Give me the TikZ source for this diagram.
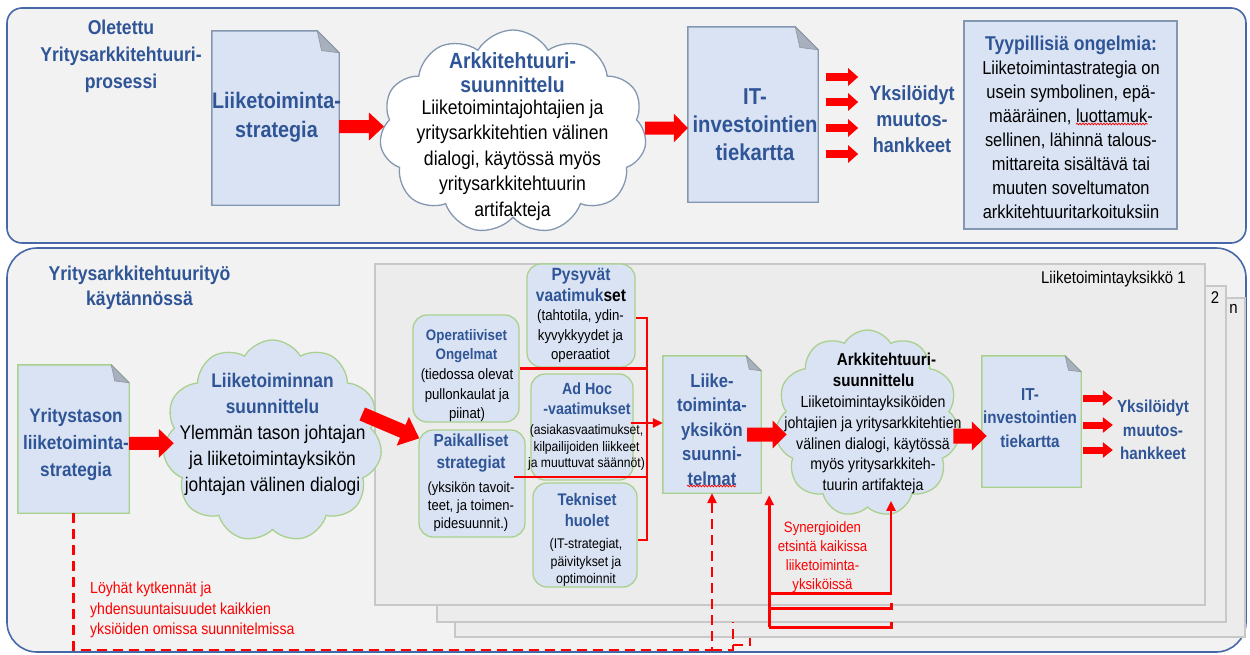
\documentclass[tikz,border=0pt]{standalone}
\usepackage{fontspec}
\setmainfont[FakeStretch=0.88]{Liberation Sans}
\usetikzlibrary{shapes.symbols,arrows.meta,calc,decorations.pathmorphing}
\definecolor{tblue}{RGB}{47,85,151}
\definecolor{pborder}{RGB}{70,104,168}
\definecolor{pfill}{RGB}{242,242,242}
\definecolor{dfill}{RGB}{218,227,243}
\definecolor{gbb}{RGB}{132,151,176}
\definecolor{foldc}{RGB}{168,176,190}
\definecolor{gborder}{RGB}{169,209,142}
\definecolor{pgfill}{RGB}{236,236,236}
\definecolor{pgborder}{RGB}{200,200,200}
\definecolor{rd}{RGB}{255,0,0}
\newcommand\fsz[2]{\fontsize{#1}{#2}\selectfont}
\newcommand\bb[1]{{\bfseries\color{tblue}#1}}
\newcommand\docdraw[4]{%
  \filldraw[fill=#3,draw=#4,line width=1.4pt,line join=miter]
    (#1.south west) -- (#1.north west) -- ($(#1.north east)+(-#2,0)$)
    -- ($(#1.north east)+(0,#2)$) -- (#1.south east) -- cycle;
  \filldraw[fill=foldc,draw=foldc!85!black,line width=0.6pt]
    ($(#1.north east)+(-#2,0)$) -- ($(#1.north east)+(0,#2)$)
    -- ($(#1.north east)+(-0.8*#2,0.9*#2)$) -- cycle;
}
\begin{document}
\begin{tikzpicture}[x=1pt,y=-1pt,
  every node/.style={inner sep=0pt},
  txt/.style={align=center, inner sep=0pt},
  panel/.style={draw=pborder, fill=pfill, line width=1.6pt},
  page/.style={draw=pgborder, fill=pgfill, line width=1.2pt},
  rbox/.style={draw=gborder, fill=dfill, line width=1.3pt, rounded corners=14pt},
  docnode/.style={draw=none, fill=none},
  cloudsh/.style={cloud, cloud puffs=11, cloud puff arc=120, cloud ignores aspect, line width=1.3pt, inner sep=0pt},
  redline/.style={draw=rd, line width=2.8pt},
  dashred/.style={draw=rd, line width=2.8pt, dash pattern=on 10pt off 6pt},
  smalltip/.style={-{Triangle[length=10pt,width=9pt]}},
  bigarrow/.style n args={3}{draw=rd, line width=#1pt, -{Triangle[length=#3pt,width=#2pt]}}
]
\useasboundingbox (0,0) rectangle (1250,654);
% panels
\node[panel, rounded corners=15pt, minimum width=1239pt, minimum height=235pt] (topPanel) at (626.5,125.5) {};
\node[panel, rounded corners=30pt, minimum width=1239pt, minimum height=404pt] (botPanel) at (626.5,450) {};

% ---------- top panel ----------
\node[txt, font=\bfseries\fsz{20}{27}, text=tblue] (tTitle) at (121,56) {Oletettu\\Yritysarkkitehtuuri-\\prosessi};

\node[docnode, minimum width=127pt, minimum height=174pt] (docA) at (275.5,118) {};
\docdraw{docA}{22}{dfill}{gbb}
\node[txt, font=\bfseries\fsz{22.5}{29}, text=tblue] (docAt) at (276.5,117.5) {Liiketoiminta-\\strategia};

\node[cloudsh, draw=gbb, fill=white, shape border rotate=16, minimum width=267pt, minimum height=204pt] (cloudA) at (513,132) {};
\node[txt, font=\bfseries\fsz{22}{24}, text=tblue] (cloudAh) at (512.5,73) {Arkkitehtuuri-\\suunnittelu};
\node[txt, font=\fsz{20}{25.5}] (cloudAb) at (512.5,160) {Liiketoimintajohtajien ja\\yritysarkkitehtien välinen\\dialogi, käytössä myös\\yritysarkkitehtuurin\\artifakteja};

\draw[bigarrow={13}{27}{15}] ($(docA.east)+(0,8.5)$) -- ($(cloudA.west)+(3,-5.5)$);

\node[docnode, minimum width=130pt, minimum height=175pt] (docB) at (753,114.5) {};
\docdraw{docB}{23}{dfill}{gbb}
\node[txt, font=\bfseries\fsz{23}{28}, text=tblue] (docBt) at (755,125) {IT-\\investointien\\tiekartta};

\draw[bigarrow={13}{28}{14}] ($(cloudA.east)+(0,-4)$) -- ($(docB.west)+(0,13.5)$);

\node[txt, font=\bfseries\fsz{20.5}{26}, text=tblue] (outA) at (912,119) {Yksilöidyt\\muutos-\\hankkeet};
\foreach \yy in {77,102,128,154}
  \draw[bigarrow={8}{17}{10}] ($(docB.east)+(8,\yy-114.5)$) -- ($(outA.west)+(-11,\yy-119)$);

\node[draw=gbb, fill=dfill, line width=1.4pt, minimum width=213pt, minimum height=208pt] (probBox) at (1070.5,125) {};
\node[txt, font=\fsz{18.7}{24}] (probT) at (1071,127) {\bb{\fsz{20}{24}Tyypillisiä ongelmia:}\\Liiketoimintastrategia on\\usein symbolinen, epä-\\määräinen, luottamuk-\\sellinen, lähinnä talous-\\mittareita sisältävä tai\\muuten soveltumaton\\arkkitehtuuritarkoituksiin};
\draw[rd, line width=0.7pt, decorate, decoration={snake, amplitude=0.9pt, segment length=3pt}] (1076,124) -- (1148,124);

% ---------- bottom panel ----------
\node[txt, font=\bfseries\fsz{20}{25}, text=tblue] (bTitle) at (139.5,287.5) {Yritysarkkitehtuurityö\\käytännössä};

\node[page, minimum width=790pt, minimum height=339pt] (pageN) at (850,467.5) {};
\node[page, minimum width=789pt, minimum height=336pt] (page2) at (831.5,454) {};
\node[page, minimum width=830pt, minimum height=341pt] (page1) at (790,434.5) {};
\node[txt, font=\fsz{17}{20}, anchor=east] (p1lab) at (1186,279) {Liiketoimintayksikkö 1};
\node[txt, font=\fsz{17}{20}] (p2lab) at (1215,298) {2};
\node[txt, font=\fsz{17}{20}] (pnlab) at (1233.5,309) {n};

\node[docnode, minimum width=111pt, minimum height=148pt] (docC) at (73.5,439) {};
\docdraw{docC}{18}{dfill}{gborder}
\node[txt, font=\bfseries\fsz{19.5}{27}, text=tblue] (docCt) at (76,444) {Yritystason\\liiketoiminta-\\strategia};

\node[cloudsh, draw=gborder, fill=dfill, minimum width=219pt, minimum height=202pt] (cloudB) at (272.5,441) {};
\node[txt, font=\fsz{19.7}{26}] (cloudBt) at (272.5,434) {\bb{Liiketoiminnan}\\\bb{suunnittelu}\\Ylemmän tason johtajan\\ja liiketoimintayksikön\\johtajan välinen dialogi};

\draw[bigarrow={13}{28}{15}] ($(docC.east)+(0,4.3)$) -- ($(cloudB.west)+(9,2.3)$);

% small boxes
\node[rbox, minimum width=106pt, minimum height=107pt] (boxOp) at (466,368.5) {};
\node[txt, font=\bfseries\fsz{15.2}{19}, text=tblue] (boxOpH) at (466.5,346.5) {Operatiiviset\\Ongelmat};
\node[txt, font=\fsz{15}{19.5}] (boxOpB) at (467,395.5) {(tiedossa olevat\\pullonkaulat ja\\piinat)};

\node[rbox, minimum width=106pt, minimum height=107pt] (boxPaik) at (472,483.5) {};
\node[txt, font=\bfseries\fsz{17.4}{22}, text=tblue] (boxPaikH) at (471,453) {Paikalliset\\strategiat};
\node[txt, font=\fsz{14.8}{18}] (boxPaikB) at (471,506.5) {(yksikön tavoit-\\teet, ja toimen-\\pidesuunnit.)};

\node[rbox, minimum width=108pt, minimum height=103pt] (boxPys) at (581,315.5) {};
\node[txt, font=\bfseries\fsz{17.7}{21}] (boxPysH) at (581,284.5) {{\color{tblue}Pysyvät}\\{\color{tblue}vaatimuk}set};
\node[txt, font=\fsz{15}{19.5}] (boxPysB) at (580.5,336.5) {(tahtotila, ydin-\\kyvykkyydet ja\\operaatiot};

\node[rbox, minimum width=102pt, minimum height=106pt] (boxAd) at (582,427) {};
\node[txt, font=\bfseries\fsz{16.2}{20}, text=tblue] (boxAdH) at (587,399) {Ad Hoc\\-vaatimukset};
\node[txt, font=\fsz{13.8}{16.5}] (boxAdB) at (586.5,447.5) {(asiakasvaatimukset,\\kilpailijoiden liikkeet\\ja muuttuvat säännöt)};

\node[rbox, minimum width=104pt, minimum height=104pt] (boxTek) at (585,535) {};
\node[txt, font=\bfseries\fsz{16.8}{21}, text=tblue] (boxTekH) at (587,509.5) {Tekniset\\huolet};
\node[txt, font=\fsz{14}{17.5}] (boxTekB) at (586,562.5) {(IT-strategiat,\\päivitykset ja\\optimoinnit};

\draw[bigarrow={14}{30}{18}] ($(cloudB.east)+(-18,-27)$) -- ($(boxPaik.north west)+(1,9)$);

% doc D
\node[docnode, minimum width=98pt, minimum height=137pt] (docD) at (712,424.5) {};
\docdraw{docD}{15}{dfill}{gborder}
\node[txt, font=\bfseries\fsz{18.8}{24.5}, text=tblue] (docDt) at (712,429.6) {Liike-\\toiminta-\\yksikön\\suunni-\\telmat};
\draw[rd, line width=0.7pt, decorate, decoration={snake, amplitude=0.9pt, segment length=3pt}] (687,486) -- (736,486);

% red bus
\coordinate (busT) at (647,318);
\coordinate (busB) at (647,540);
\draw[redline] (boxPys.east |- busT) -- (busT) -- (busB) -- (boxTek.east |- busB);
\draw[redline] (boxOp.east) -- (boxOp.east -| busT);
\coordinate (paikOut) at ($(boxPaik.east)+(-12,-6.5)$);
\draw[redline] (paikOut) -- (paikOut -| busT);
\coordinate (adOut) at ($(boxAd.east)+(-3,-4)$);
\draw[redline, smalltip] (adOut) -- (adOut -| docD.west);

% cloud C
\node[cloudsh, draw=gborder, fill=dfill, minimum width=185pt, minimum height=187pt] (cloudC) at (867.5,423.5) {};
\node[txt, align=left, font=\bfseries\fsz{17.2}{21}] (cloudCh) at (884.5,369.5) {\hspace*{4pt}Arkkitehtuuri-\\suunnittelu};
\node[txt, font=\fsz{16.1}{20.75}] (cloudCb) at (873,445) {Liiketoimintayksiköiden\\johtajien ja yritysarkkitehtien\\välinen dialogi, käytössä\\myös yritysarkkiteh-\\tuurin artifakteja};

\draw[bigarrow={14}{27}{14}] ($(docD.east)+(-14,10)$) -- ($(cloudC.west)+(10,11)$);

% doc E
\node[docnode, minimum width=99pt, minimum height=131pt] (docE) at (1031.5,421.5) {};
\docdraw{docE}{16}{dfill}{gborder}
\node[txt, font=\bfseries\fsz{17.3}{23.5}, text=tblue] (docEt) at (1030,418) {IT-\\investointien\\tiekartta};
\draw[bigarrow={15}{28}{15}] ($(cloudC.east)+(-5,12.5)$) -- ($(docE.west)+(5,14.5)$);

\node[txt, font=\bfseries\fsz{17.3}{23.5}, text=tblue] (outB) at (1153,430.3) {Yksilöidyt\\muutos-\\hankkeet};
\foreach \yy in {398,425,450}
  \draw[bigarrow={7}{15}{10}] ($(docE.east)+(2,\yy-421.5)$) -- ($(outB.west)+(-4,\yy-430.3)$);

% dashed connector
\coordinate (yDash) at (0,650);
\coordinate (dCorner) at (docD.south |- yDash);
\draw[dashred, smalltip] (docC.south) -- (docC.south |- yDash) -- (dCorner) -- (docD.south);
\draw[dashred] (dCorner) -- ++(21,0) -- ++(0,-28);
\draw[dashred] ($(dCorner)+(21,-5)$) -- ++(17,0) -- ++(0,-7);

% synergy connectors
\draw[redline, smalltip] ($(docD.south east)+(8,134)$) -- ($(docD.south east)+(8,2)$);
\draw[redline, smalltip] ($(docD.south east)+(8,100)$) -| ($(cloudC.south)+(23.5,-7)$);
\draw[redline] ($(docD.south east)+(8,115)$) -- ++(122,0) -- ++(0,-5);
\draw[redline] ($(docD.south east)+(8,134)$) -- ++(122,0) -- ++(0,-5);

\node[txt, font=\fsz{15}{19}, text=rd] (synT) at (822.5,557) {Synergioiden\\etsintä kaikissa\\liiketoiminta-\\yksiköissä};
\node[txt, font=\fsz{16}{20.5}, text=rd, align=left, anchor=west] (loyT) at (90,610) {Löyhät kytkennät ja\\yhdensuuntaisuudet kaikkien\\yksiöiden omissa suunnitelmissa};
\end{tikzpicture}
\end{document}
